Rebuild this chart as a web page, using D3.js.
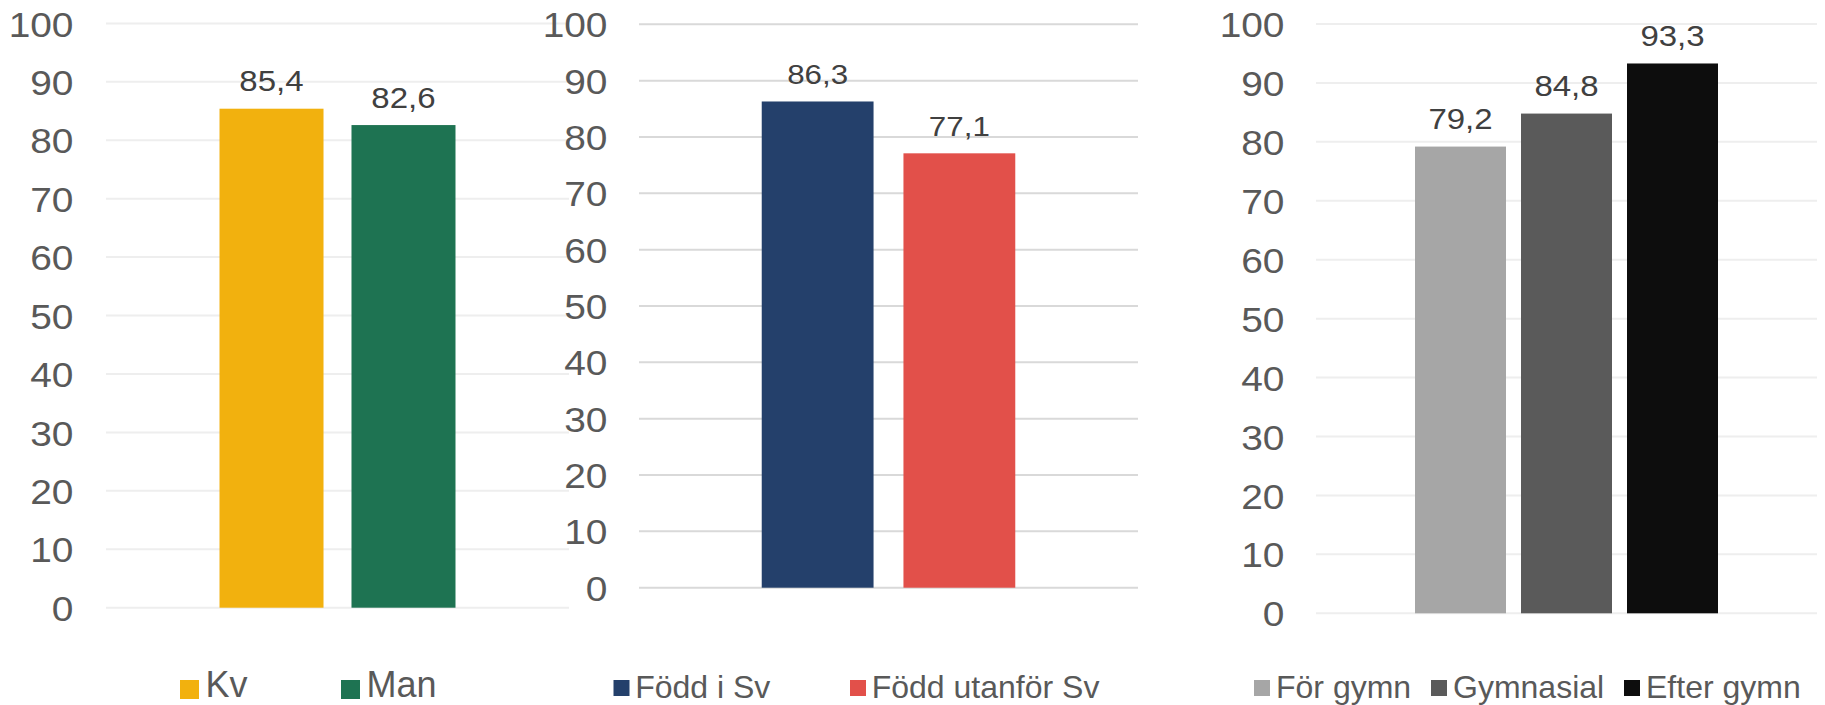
<!DOCTYPE html>
<html>
<head>
<meta charset="utf-8">
<script src="https://cdn.jsdelivr.net/npm/d3@7"></script>
<style>
  html, body { margin: 0; padding: 0; background: #ffffff; }
  svg { display: block; font-family: "Liberation Sans", Arial, sans-serif; }
</style>
</head>
<body>
<svg id="chart" width="1825" height="705"></svg>
<script>
// ---- Data ----
const genderCategories = ["Kv", "Man"];
const genderValues = [85.4, 82.6];

const birthCategories = ["Född i Sv", "Född utanför Sv"];
const birthValues = [86.3, 77.1];

const eduCategories = ["För gymn", "Gymnasial", "Efter gymn"];
const eduValues = [79.2, 84.8, 93.3];

const yTickValues = [0, 10, 20, 30, 40, 50, 60, 70, 80, 90, 100];

// ---- Styles ----
const genderColors = ["#F2B10E", "#1E7352"];
const birthColors = ["#24406B", "#E2504A"];
const eduColors = ["#A6A6A6", "#5A5A5A", "#0D0D0D"];

const panels = [
  { cats: genderCategories, vals: genderValues, colors: genderColors,
    x0: 106, x1: 569, yTop: 23.4, yBot: 607.7, labelX: 73.5, grid: "#eeeeee",
    pi: 0.212, po: 0.86, axisFont: 36, axisStretch: 1.08, dataFont: 29.5, dataStretch: 1.12,
    legFont: 36, legSq: 19, legX: [180, 341], legSqY: 680, legBase: 696.5, legGap: 6.5 },
  { cats: birthCategories, vals: birthValues, colors: birthColors,
    x0: 639, x1: 1138, yTop: 24.3, yBot: 587.7, labelX: 607.5, grid: "#d9d9d9",
    pi: 0.211, po: 0.866, axisFont: 36, axisStretch: 1.08, dataFont: 28, dataStretch: 1.12,
    legFont: 32, legSq: 16, legX: [613.5, 850], legSqY: 680, legBase: 697.5, legGap: 5.7 },
  { cats: eduCategories, vals: eduValues, colors: eduColors,
    x0: 1316, x1: 1817, yTop: 24, yBot: 613.3, labelX: 1284.5, grid: "#eeeeee",
    pi: 0.1415, po: 0.934, axisFont: 36, axisStretch: 1.08, dataFont: 30, dataStretch: 1.1,
    legFont: 32, legSq: 16, legX: [1254, 1431, 1624], legSqY: 680, legBase: 697.5, legGap: 6 }
];

const fmt = v => d3.format(".1f")(v).replace(".", ",");
const svg = d3.select("#chart");

panels.forEach(p => {
  const y = d3.scaleLinear().domain([0, 100]).range([p.yBot, p.yTop]);
  const x = d3.scaleBand().domain(p.cats).range([p.x0, p.x1])
    .paddingInner(p.pi).paddingOuter(p.po);
  const g = svg.append("g");

  // gridlines
  g.append("g").selectAll("line").data(yTickValues).join("line")
    .attr("x1", p.x0).attr("x2", p.x1)
    .attr("y1", d => y(d)).attr("y2", d => y(d))
    .attr("stroke", p.grid).attr("stroke-width", 2);

  // y axis labels
  const ax = g.append("g").attr("transform", `translate(${p.labelX},0)`)
    .call(d3.axisLeft(y).tickValues(yTickValues).tickSize(0).tickPadding(0));
  ax.select(".domain").remove();
  ax.selectAll("text")
    .attr("x", 0).attr("dy", "0.35em")
    .attr("transform", `scale(${p.axisStretch},1)`)
    .attr("fill", "#595959")
    .style("font-size", p.axisFont + "px")
    .style("font-family", '"Liberation Sans", Arial, sans-serif');

  // bars
  const data = p.cats.map((c, i) => ({ c, v: p.vals[i], color: p.colors[i] }));
  g.append("g").selectAll("rect").data(data).join("rect")
    .attr("x", d => x(d.c)).attr("width", x.bandwidth())
    .attr("y", d => y(d.v)).attr("height", d => y(0) - y(d.v))
    .attr("fill", d => d.color);

  // value labels
  g.append("g").selectAll("text").data(data).join("text")
    .attr("transform", d => `translate(${x(d.c) + x.bandwidth() / 2},${y(d.v) - 17.5}) scale(${p.dataStretch},1)`)
    .attr("text-anchor", "middle")
    .attr("fill", "#404040")
    .style("font-size", p.dataFont + "px")
    .text(d => fmt(d.v));

  // legend
  const leg = g.append("g").selectAll("g").data(data).join("g")
    .attr("transform", (d, i) => `translate(${p.legX[i]},0)`);
  leg.append("rect")
    .attr("x", 0).attr("y", p.legSqY)
    .attr("width", p.legSq).attr("height", p.legSq)
    .attr("fill", d => d.color);
  leg.append("text")
    .attr("x", p.legSq + p.legGap).attr("y", p.legBase)
    .attr("fill", "#595959")
    .style("font-size", p.legFont + "px")
    .text(d => d.c);
});
</script>
</body>
</html>
